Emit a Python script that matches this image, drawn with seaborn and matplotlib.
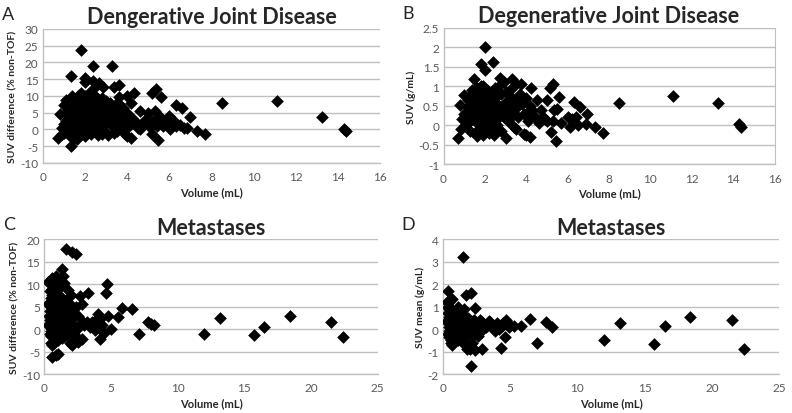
"""Four-panel scatter: TOF vs non-TOF SUV differences against lesion volume."""

import matplotlib
matplotlib.use("Agg")
import matplotlib.pyplot as plt
import seaborn as sns

# Panel A: degenerative joint disease, SUV difference (% non-TOF)
vol_a = [1.8, 2.4, 3.3, 1.35, 2.0, 2.0, 2.4, 2.65, 2.85, 3.4, 3.6, 5.2, 5.35, 5.6, 4.35,
         4.0, 4.2, 3.6, 8.5, 11.1, 13.25, 14.3, 14.4, 7.7, 7.3, 6.85, 7.0, 6.6, 6.3, 6.0,
         6.1, 6.05, 5.7, 5.5, 5.45, 5.2, 5.0, 5.3, 4.6, 4.8, 4.6, 4.2, 4.0, 3.9, 1.35,
         0.7, 0.9, 0.8, 1.0, 1.1, 1.0, 1.4, 1.5, 1.7, 1.2, 1.3, 1.4, 1.5, 1.6, 1.6, 1.7,
         1.8, 1.8, 1.9, 1.9, 2.0, 2.0, 2.1, 2.1, 2.2, 2.2, 2.3, 2.3, 2.4, 2.4, 2.5, 2.5,
         2.6, 2.6, 2.7, 2.7, 2.8, 2.8, 2.9, 3.0, 3.0, 3.1, 3.1, 3.2, 3.3, 3.3, 3.4, 3.5,
         3.5, 3.6, 3.7, 3.8, 3.8, 3.9, 4.0, 4.1, 4.1, 4.3, 4.4, 4.5, 4.7, 4.9, 5.1, 5.2,
         5.4, 5.6, 5.8, 6.2, 6.3, 6.5, 6.7, 1.0, 1.1, 1.2, 1.3, 1.5, 1.6, 1.7, 2.0, 2.2,
         2.6, 2.9, 3.4, 1.2, 1.4, 1.8, 2.2, 2.5, 1.5, 3.0, 3.2, 3.6, 1.9, 2.3, 2.7, 1.7,
         2.9, 1.1, 0.9, 1.3, 1.4, 1.5, 1.6, 1.7, 1.8, 1.9, 2.0, 2.0, 2.1, 2.1, 2.2, 2.3,
         2.3, 2.4, 2.4, 2.5, 2.5, 2.6, 2.6, 2.7, 2.8, 2.8, 2.9, 3.0, 3.1, 3.2, 3.3, 3.4,
         3.6, 3.7, 3.9, 1.2, 1.4, 1.6, 1.8, 2.2, 2.0, 1.5, 1.1]
diff_a = [23.8, 18.8, 18.9, 15.8, 15.4, 14.0, 14.5, 13.7, 12.5, 12.7, 13.2, 11.0, 12.0, 9.8,
          10.8, 10.0, 8.0, 9.8, 8.0, 8.4, 3.8, 0.2, -0.5, -1.3, -0.5, 0.3, 3.6, 6.3, 7.2, 4.0,
          2.0, 0.0, 0.9, 4.0, -3.3, -1.5, 4.8, 5.5, 5.5, 2.5, 0.0, -2.5, -2.0, -1.5, -4.8,
          -2.5, -1.5, 4.7, 7.3, 8.8, 1.5, 10.0, 5.0, 10.3, 3.0, 6.0, 2.0, 8.0, 0.0, 4.0, 6.5,
          2.0, 8.0, 5.0, -1.0, 3.0, 10.0, 6.0, 1.0, 4.0, 8.5, 2.0, -1.5, 6.0, 10.5, 3.0, 0.0,
          5.0, 9.0, 1.0, 7.0, 3.5, -1.5, 5.5, 2.0, 7.0, -1.8, 4.0, 6.0, 1.0, 3.0, 5.0, -0.5,
          8.0, 2.0, 4.0, 6.5, 0.0, 3.0, 5.0, 1.0, 2.5, 3.0, 2.0, 0.5, 1.0, 2.0, 0.8, 2.5,
          1.0, 3.5, 2.0, 2.5, 1.0, 1.2, 0.5, -1.0, 5.0, 0.0, -2.0, -2.5, -3.0, -2.0, -2.0, -0.5,
          -1.8, -0.5, -1.0, 7.0, 4.5, 11.0, 11.0, 12.5, 9.0, 8.5, 5.0, 7.5, 7.8, 7.0, 4.0, 1.0,
          1.5, 2.5, 0.5, 4.0, 7.0, 1.0, 6.0, 3.0, 5.5, 2.5, 7.0, 4.5, 3.0, 8.0, 5.5, 4.0,
          9.0, 2.0, 7.5, 5.0, 1.5, 3.0, 7.0, 5.5, 2.0, 9.5, 4.0, 5.0, 2.5, 8.0, 6.5, 3.0,
          5.5, 2.0, 4.5, 5.5, 0.5, 8.5, -0.5, 1.5, -0.5, 6.5, 0.0]

# Panel B: degenerative joint disease, SUV (g/mL)
vol_b = [2.0, 2.4, 1.8, 2.0, 1.45, 2.75, 2.9, 3.3, 3.5, 3.75, 4.25, 5.3, 5.15, 5.0, 5.6,
         6.3, 6.6, 6.95, 6.0, 6.1, 6.5, 6.9, 7.3, 7.7, 8.5, 11.1, 13.25, 14.3, 14.4, 5.45,
         5.2, 5.5, 5.35, 4.2, 3.9, 3.0, 0.7, 0.8, 1.0, 1.2, 0.9, 1.6, 1.5, 0.85, 1.1, 1.3,
         1.4, 1.5, 1.6, 1.7, 1.7, 1.8, 1.8, 1.9, 1.9, 2.0, 2.0, 2.1, 2.1, 2.2, 2.2, 2.3,
         2.3, 2.4, 2.5, 2.5, 2.6, 2.7, 2.8, 2.8, 2.9, 3.0, 3.1, 3.2, 3.3, 3.4, 3.5, 3.6,
         3.7, 3.8, 3.9, 4.0, 4.1, 4.2, 4.3, 4.4, 4.5, 4.6, 4.8, 4.9, 5.0, 5.3, 5.7, 6.2,
         6.4, 2.6, 1.3, 2.2, 2.45, 1.9, 3.5, 4.0, 1.0, 1.2, 1.4, 2.7, 2.35, 1.65, 3.2, 4.7,
         1.6, 1.7, 1.7, 1.8, 1.8, 1.9, 1.9, 2.0, 2.0, 2.1, 2.1, 2.2, 2.2, 2.3, 2.4, 2.4,
         2.5, 2.6, 2.7, 2.9, 3.0, 3.1, 3.3, 1.5, 1.4, 1.6, 2.6, 3.4, 3.6, 4.1, 1.3, 1.2,
         2.0, 1.8, 2.3, 1.5, 1.6, 1.7, 1.9, 2.1, 2.3, 1.4, 1.8, 2.2, 2.5, 1.6, 2.0]
suv_b = [2.0, 1.63, 1.57, 1.42, 1.18, 1.22, 1.12, 1.2, 1.05, 1.07, 0.95, 1.05, 0.97, 0.65,
         0.73, 0.6, 0.47, 0.28, 0.22, -0.05, 0.0, 0.03, -0.05, -0.2, 0.57, 0.76, 0.57, 0.02,
         -0.05, -0.4, -0.17, 0.42, 0.4, -0.3, -0.22, -0.32, -0.32, 0.53, 0.78, 0.48, 0.15,
         -0.28, -0.2, -0.1, 0.0, 0.3, 0.9, 0.6, 0.95, 0.4, 0.1, 0.8, -0.1, 0.5, 1.0, 0.2,
         0.7, 0.9, -0.15, 0.4, 0.6, 0.85, 0.1, 0.3, 0.95, -0.1, 0.5, 0.2, 0.8, -0.15, 0.4,
         0.6, 0.1, 0.3, 0.7, -0.05, 0.45, 0.2, 0.8, 0.55, 0.3, 0.7, 0.1, 0.5, 0.4, 0.2, 0.65,
         0.05, 0.2, 0.15, 0.1, 0.1, 0.05, 0.15, 0.2, 0.2, -0.15, -0.2, -0.25, -0.25, -0.1,
         -0.25, 0.3, 0.65, 0.15, 1.0, 0.7, 0.7, 0.9, 0.4, 0.3, 0.6, 0.85, 0.3, 0.55, 0.75,
         0.15, 0.45, 0.9, 0.6, 0.3, 0.8, 0.05, 0.5, 0.65, 0.1, 0.4, 0.75, 0.5, 0.2, 0.85,
         0.45, 0.25, 0.35, 0.65, 0.05, 0.0, 0.55, 0.65, 0.35, 0.75, 0.1, 0.05, 1.0, 0.3,
         0.8, 0.6, 0.2, 0.35, 0.15, 0.6, 0.45, 0.0, -0.05, 0.6, -0.15, 0.55]

# Panel C: metastases, SUV difference (% non-TOF)
vol_c = [1.6, 2.1, 2.4, 1.3, 1.4, 0.3, 0.6, 0.9, 1.2, 1.5, 4.7, 4.6, 3.3, 2.7, 1.8, 2.0,
         5.8, 6.6, 5.5, 4.8, 4.0, 4.2, 7.8, 8.0, 8.2, 7.1, 12.0, 13.2, 15.7, 16.5, 18.4,
         21.5, 22.4, 0.6, 0.9, 1.0, 0.6, 4.2, 5.0, 4.5, 2.8, 2.1, 0.3, 0.4, 0.4, 0.5, 0.5,
         0.6, 0.6, 0.7, 0.7, 0.8, 0.8, 0.9, 0.9, 1.0, 1.0, 1.1, 1.1, 1.2, 1.2, 1.3, 1.3,
         1.4, 1.5, 1.5, 1.6, 1.7, 1.7, 1.8, 1.9, 2.0, 2.1, 2.2, 2.3, 2.5, 2.6, 2.8, 3.0,
         3.2, 3.4, 3.6, 3.8, 2.9, 2.5, 1.9, 0.7, 0.5, 0.35, 0.4, 0.5, 1.0, 1.1, 0.8, 2.4,
         2.2, 3.5, 3.9, 4.1, 4.3, 0.6, 0.8, 1.3, 0.4, 0.5, 0.5, 0.6, 0.6, 0.7, 0.7, 0.8,
         0.8, 0.9, 0.9, 1.0, 1.0, 1.1, 1.1, 1.2, 1.2, 1.3, 1.4, 1.4, 1.6, 1.6, 1.8, 1.9,
         2.0, 2.2, 2.4, 0.5, 0.4, 1.0, 1.5, 0.3]
diff_c = [17.8, 17.1, 16.6, 13.3, 11.8, 10.5, 11.3, 11.8, 10.5, 10.2, 10.0, 8.0, 8.1, 7.3,
          8.6, 7.5, 4.8, 4.5, 2.6, 3.0, 3.3, 2.2, 1.6, 1.2, 0.8, -1.0, -1.1, 2.4, -1.3, 0.5,
          2.9, 1.5, -1.7, -6.3, -5.8, -5.6, -3.6, -2.3, 0.0, -0.8, -2.2, -3.5, 1.0, 4.0, -1.0,
          7.0, 2.0, 9.0, 0.0, 5.0, -2.0, 3.0, 8.0, 1.0, -1.5, 6.0, 2.5, -0.5, 4.0, 7.0, 1.0,
          3.0, -2.0, 5.5, 0.5, 3.0, 6.5, 2.0, -1.0, 4.0, 0.0, 2.5, 5.0, 1.0, -1.5, 3.0, 0.5,
          5.5, 1.0, 1.5, 0.5, 1.5, -0.3, 1.5, -2.8, -3.0, -3.2, -1.5, 3.0, 6.0, 10.2, 9.0,
          11.0, 6.5, 5.0, 3.0, 1.0, 2.0, 0.5, 1.0, 2.5, -0.5, 0.0, 2.0, 5.0, -0.5, 4.0, 7.5,
          1.0, 9.5, 1.5, 4.5, 3.0, 6.0, 0.0, 4.0, 2.0, 7.5, 3.0, -1.0, 5.0, 1.5, 3.5, 1.0,
          4.5, 2.0, 5.5, 1.0, -1.0, 0.0, -3.0, 8.5, -2.5, -1.5, 5.5]

# Panel D: metastases, SUV mean (g/mL)
vol_d = [1.5, 0.4, 0.3, 0.7, 1.7, 2.1, 1.6, 2.4, 1.1, 6.5, 7.7, 8.1, 7.0, 12.0, 13.2, 15.7,
         16.5, 18.4, 21.5, 22.4, 2.1, 2.0, 2.4, 2.9, 4.3, 4.6, 5.8, 5.3, 4.7, 3.5, 0.3, 0.4,
         0.4, 0.5, 0.5, 0.6, 0.6, 0.7, 0.7, 0.8, 0.8, 0.9, 0.9, 1.0, 1.0, 1.1, 1.2, 1.2,
         1.3, 1.4, 1.5, 1.5, 1.6, 1.7, 1.8, 1.9, 1.9, 2.0, 2.2, 2.2, 2.3, 2.5, 2.6, 2.7,
         2.8, 3.0, 3.2, 3.4, 3.7, 4.0, 4.2, 4.4, 4.9, 5.0, 1.1, 0.6, 1.3, 0.5, 2.6, 1.8, 3.9,
         0.4, 0.5, 0.5, 0.6, 0.6, 0.7, 0.7, 0.8, 0.9, 0.9, 1.0, 1.0, 1.1, 1.2, 1.3, 1.4,
         1.6, 1.7, 1.8, 2.0, 2.1, 2.4, 2.9, 3.3, 3.6, 4.5, 0.4, 0.8, 1.4, 2.3, 0.5, 0.6,
         0.8, 1.0, 1.2, 1.3, 1.5, 1.6, 1.9, 2.2, 2.7, 3.1]
suv_d = [3.2, 1.7, 1.2, 1.35, 1.5, 1.6, 0.9, 0.93, 1.0, 0.45, 0.3, 0.1, -0.6, -0.5, 0.25,
         -0.68, 0.15, 0.55, 0.4, -0.88, -1.62, -0.9, -0.95, -0.9, -0.82, -0.35, 0.15, 0.15,
         0.4, 0.3, 0.3, 0.7, -0.2, 0.1, 1.2, 0.5, -0.5, 0.2, -0.7, 0.8, 0.0, 0.4, -0.3, 0.6,
         0.1, -0.5, 0.3, 0.8, -0.2, 0.5, 0.1, -0.6, 0.4, 0.2, -0.3, 0.5, 0.0, 0.3, 0.1, -0.6,
         0.4, 0.2, -0.3, 0.1, 0.4, 0.2, 0.1, 0.35, 0.1, 0.25, 0.0, 0.15, 0.1, 0.2, -0.4, -0.6,
         0.6, 0.9, -0.2, -0.9, -0.1, 0.4, 0.55, -0.1, 0.2, 0.9, 0.45, -0.2, 0.3, 0.1, 0.6,
         0.3, -0.2, 0.5, 0.0, 0.3, 0.2, 0.1, 0.5, 0.2, 0.1, 0.35, 0.3, 0.3, 0.2, 0.15, 0.25,
         1.0, -0.4, -0.4, -0.2, -0.35, 0.0, 0.15, -0.05, -0.3, 0.1, -0.2, 0.25, -0.15, 0.3,
         0.25, 0.05]

panels = [
    ("A", "Dengerative Joint Disease", vol_a, diff_a, "SUV difference (% non-TOF)",
     (0, 16, 2), (-10, 30, 5), [0.054, 0.604, 0.426, 0.324], False),
    ("B", "Degenerative Joint Disease", vol_b, suv_b, "SUV (g/mL)",
     (0, 16, 2), (-1, 2.5, 0.5), [0.560, 0.601, 0.418, 0.329], True),
    ("C", "Metastases", vol_c, diff_c, "SUV difference (% non-TOF)",
     (0, 25, 5), (-10, 20, 5), [0.056, 0.094, 0.421, 0.326], False),
    ("D", "Metastases", vol_d, suv_d, "SUV mean (g/mL)",
     (0, 25, 5), (-2, 4, 1), [0.559, 0.094, 0.425, 0.326], False),
]

sns.set_style("white")
plt.rcParams["font.family"] = ["Lato", "DejaVu Sans"]

fig = plt.figure(figsize=(7.92, 4.14), dpi=100)
grid_c = "#c0c0c0"
tick_c = "#595959"

for letter, title, xs, ys, ylabel, xr, yr, rect, framed in panels:
    ax = fig.add_axes(rect)
    sns.scatterplot(x=xs, y=ys, ax=ax, marker="D", s=42, color="black",
                    linewidth=0, zorder=3)
    ax.set_xlim(xr[0], xr[1])
    ax.set_ylim(yr[0], yr[1])
    xt = [xr[0] + i * xr[2] for i in range(int(round((xr[1] - xr[0]) / xr[2])) + 1)]
    yt = [yr[0] + i * yr[2] for i in range(int(round((yr[1] - yr[0]) / yr[2])) + 1)]
    ax.set_xticks(xt)
    ax.set_yticks(yt)
    ax.set_xticklabels([f"{v:g}" for v in xt])
    ax.set_yticklabels([f"{v:g}" for v in yt])
    ax.grid(axis="y", color=grid_c, linewidth=1)
    ax.set_axisbelow(True)
    ax.tick_params(axis="both", labelsize=8.5, colors=tick_c, length=0, pad=3)
    ax.tick_params(axis="x", length=3, color=grid_c, direction="out")
    for side in ["left", "bottom"]:
        ax.spines[side].set_color(grid_c)
        ax.spines[side].set_linewidth(1)
    for side in ["top", "right"]:
        ax.spines[side].set_visible(framed)
        ax.spines[side].set_color(grid_c)
    ax.set_xlabel("Volume (mL)", fontsize=8, fontweight="bold", labelpad=3)
    ax.set_ylabel(ylabel, fontsize=7.5, fontweight="bold", labelpad=2)
    ax.set_title(title, fontsize=15.5, fontweight="bold", pad=4)
    bb = ax.get_position()
    fig.text(bb.x0 - 0.052, bb.y1 + 0.055, letter, fontsize=13, va="top", ha="left")

fig.savefig("out.png", dpi=100)
